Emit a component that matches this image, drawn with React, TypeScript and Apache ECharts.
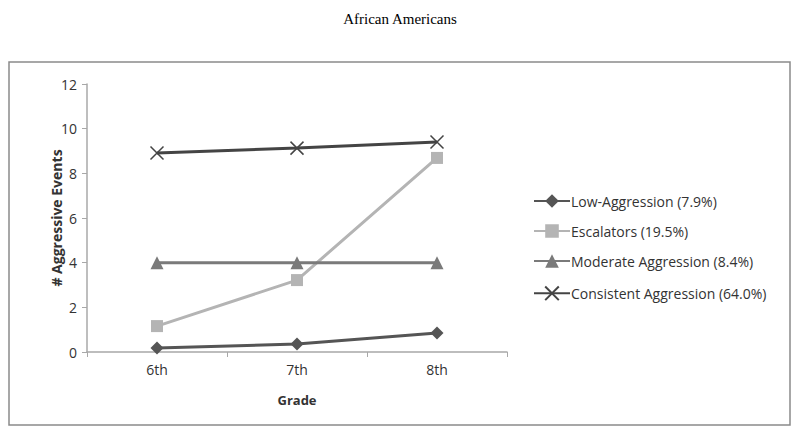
import React, { useEffect, useRef } from "react";
import * as echarts from "echarts";

const grades = ["6th", "7th", "8th"];
const lowAggression = [0.18, 0.36, 0.85];
const escalators = [1.16, 3.22, 8.69];
const moderateAggression = [4.0, 4.0, 4.0];
const consistentAggression = [8.91, 9.13, 9.4];
const seriesNames = [
  "Low-Aggression (7.9%)",
  "Escalators (19.5%)",
  "Moderate Aggression (8.4%)",
  "Consistent Aggression (64.0%)",
];

const XPATH = "path://M0,0L10,10M10,0L0,10";

export default function App() {
  const ref = useRef<HTMLDivElement>(null);
  useEffect(() => {
    if (!ref.current) return;
    const chart = echarts.init(ref.current, undefined, { renderer: "svg" });
    const font = "'Open Sans', 'Noto Sans', sans-serif";
    chart.setOption({
      animation: false,
      backgroundColor: "#ffffff",
      title: {
        text: "African Americans",
        left: "center",
        top: 6,
        textStyle: {
          fontFamily: "'Liberation Serif', serif",
          fontWeight: "normal",
          fontSize: 15,
          color: "#000",
        },
      },
      graphic: [
        {
          type: "rect",
          shape: { x: 9, y: 62, width: 781, height: 363 },
          style: { fill: "none", stroke: "#8a8a8a", lineWidth: 1.5 },
          silent: true,
        },
      ],
      grid: { left: 87, top: 84, width: 420, height: 268, containLabel: false },
      legend: {
        orient: "vertical",
        left: 528,
        top: 189,
        itemGap: 16,
        itemWidth: 36,
        itemHeight: 17,
        textStyle: { fontFamily: font, fontSize: 14, color: "#333", padding: [0, 0, 0, -4] },
        data: seriesNames,
      },
      xAxis: {
        type: "category",
        data: grades,
        boundaryGap: true,
        name: "Grade",
        nameLocation: "middle",
        nameGap: 41,
        nameMoveOverlap: false,
        nameTextStyle: { fontFamily: font, fontWeight: "bold", fontSize: 13, color: "#333" },
        axisLine: { lineStyle: { color: "#a8a8a8", width: 1.5 } },
        axisTick: { show: true, length: 5, lineStyle: { color: "#a8a8a8" } },
        axisLabel: { fontFamily: font, fontSize: 14, color: "#333", margin: 10 },
      },
      yAxis: {
        type: "value",
        min: 0,
        max: 12,
        interval: 2,
        name: "# Aggressive Events",
        nameLocation: "middle",
        nameGap: 24,
        nameMoveOverlap: false,
        nameTextStyle: { fontFamily: font, fontWeight: "bold", fontSize: 14, color: "#333" },
        axisLine: { show: true, lineStyle: { color: "#a8a8a8", width: 1.5 } },
        axisTick: { show: true, length: 5, lineStyle: { color: "#a8a8a8" } },
        splitLine: { show: false },
        axisLabel: { fontFamily: font, fontSize: 14, color: "#333", margin: 10 },
      },
      series: [
        {
          name: seriesNames[0],
          type: "line",
          data: lowAggression,
          symbol: "diamond",
          symbolSize: 13,
          lineStyle: { color: "#555555", width: 3 },
          itemStyle: { color: "#555555" },
        },
        {
          name: seriesNames[1],
          type: "line",
          data: escalators,
          symbol: "rect",
          symbolSize: 12,
          lineStyle: { color: "#b4b4b4", width: 3 },
          itemStyle: { color: "#b4b4b4" },
        },
        {
          name: seriesNames[2],
          type: "line",
          data: moderateAggression,
          symbol: "triangle",
          symbolSize: 13,
          lineStyle: { color: "#7a7a7a", width: 3 },
          itemStyle: { color: "#7a7a7a" },
        },
        {
          name: seriesNames[3],
          type: "line",
          data: consistentAggression,
          symbol: XPATH,
          symbolSize: 13,
          lineStyle: { color: "#444444", width: 3 },
          itemStyle: { color: "none", borderColor: "#444444", borderWidth: 1.5 },
        },
      ],
    });
    return () => chart.dispose();
  }, []);
  return (
    <div
      ref={ref}
      style={{ position: "absolute", left: 0, top: 0, width: 800, height: 440 }}
    />
  );
}
